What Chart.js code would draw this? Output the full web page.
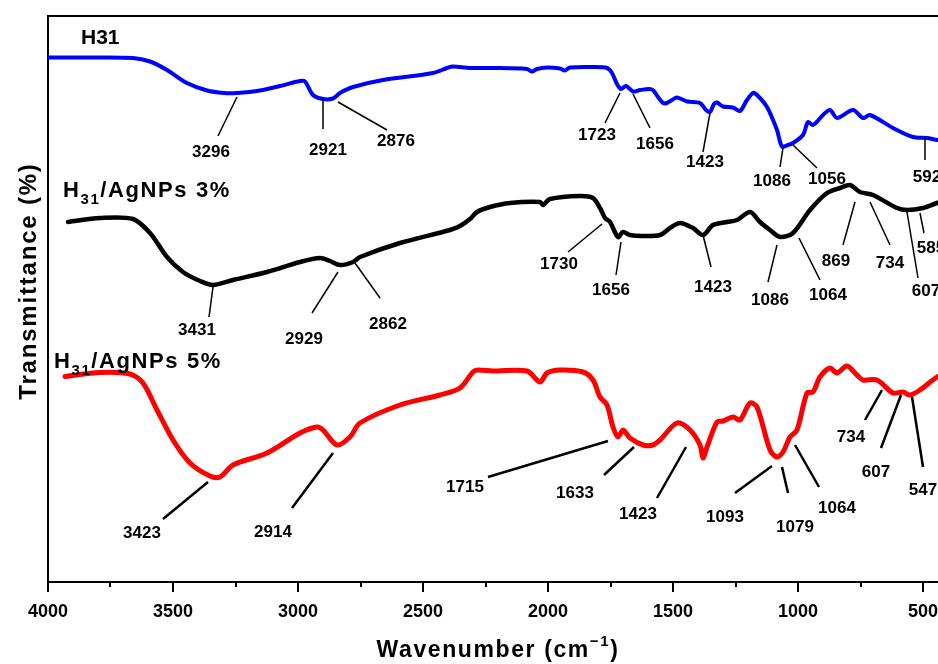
<!DOCTYPE html>
<html>
<head>
<meta charset="utf-8">
<title>FTIR H31 / AgNPs</title>
<script src="https://cdn.jsdelivr.net/npm/chart.js@4.4.1/dist/chart.umd.min.js"></script>
<style>
  html, body { margin: 0; padding: 0; background: #fff; overflow: hidden; }
  #wrap { position: absolute; left: 0; top: 0; }
</style>
</head>
<body>
<div id="wrap"><canvas id="ftirChart" width="960" height="664"></canvas></div>
<script>
// Ejes
const tickValues = [4000, 3500, 3000, 2500, 2000, 1500, 1000, 500];
const minorTickValues = [3750, 3250, 2750, 2250, 1750, 1250, 750];

// Espectro H31 (azul)
const h31Wn = [4000, 3832, 3660, 3592, 3524, 3444, 3364, 3296, 3244, 3152, 3072, 2992, 2972, 2940, 2900, 2860, 2832, 2780, 2660, 2460, 2404, 2380, 2312, 2220, 2084, 2064, 2044, 2004, 1952, 1932, 1912, 1820, 1764, 1744, 1724, 1708, 1688, 1660, 1632, 1584, 1560, 1540, 1524, 1504, 1484, 1444, 1392, 1368, 1352, 1336, 1324, 1300, 1260, 1232, 1204, 1180, 1164, 1124, 1084, 1064, 1040, 1020, 980, 960, 940, 900, 872, 844, 780, 740, 712, 620, 540, 484, 440, 400];
const h31T = [104.9, 104.9, 104.8, 104.1, 102.4, 99.8, 98.3, 97.8, 97.8, 98.3, 99.2, 100.2, 100.1, 97.4, 96.6, 96.7, 97.8, 99.0, 100.4, 101.8, 102.8, 103.1, 102.8, 102.8, 102.6, 102.1, 102.6, 102.9, 102.7, 102.3, 102.9, 103.0, 102.8, 101.8, 99.6, 98.6, 99.2, 98.1, 98.4, 98.5, 97.0, 95.8, 95.8, 96.4, 96.9, 96.1, 95.8, 94.4, 94.0, 95.6, 95.9, 95.1, 94.9, 94.2, 96.4, 97.8, 97.4, 95.0, 90.4, 87.1, 87.4, 87.8, 89.4, 92.0, 91.4, 93.4, 94.4, 92.8, 94.4, 92.8, 93.4, 90.8, 89.0, 88.8, 88.4, 88.4];

// Espectro H31/AgNPs 3% (negro)
const ag3Wn = [3920, 3792, 3660, 3592, 3524, 3460, 3392, 3340, 3260, 3124, 2992, 2912, 2872, 2832, 2780, 2752, 2592, 2392, 2352, 2312, 2284, 2232, 2152, 2032, 2020, 1992, 1872, 1820, 1792, 1772, 1752, 1720, 1700, 1672, 1612, 1552, 1512, 1472, 1420, 1380, 1340, 1284, 1244, 1192, 1152, 1112, 1072, 1020, 952, 884, 832, 792, 752, 700, 604, 564, 500, 444, 400];
const ag3T = [72.0, 72.8, 72.6, 69.8, 65.0, 62.0, 60.2, 59.4, 60.4, 62.0, 64.0, 64.8, 64.2, 63.4, 64.0, 65.0, 67.8, 70.4, 71.2, 72.6, 74.0, 75.0, 75.8, 76.0, 75.4, 76.6, 77.2, 76.8, 74.8, 72.8, 72.0, 69.0, 70.0, 69.4, 69.2, 69.4, 70.8, 71.8, 70.8, 69.4, 71.4, 72.0, 72.4, 74.0, 72.0, 70.4, 69.0, 69.8, 74.4, 77.8, 78.8, 79.4, 78.0, 77.4, 74.8, 74.4, 74.8, 75.8, 76.4];

// Espectro H31/AgNPs 5% (rojo)
const ag5Wn = [3932, 3792, 3672, 3620, 3564, 3500, 3432, 3352, 3312, 3260, 3124, 2992, 2924, 2900, 2844, 2792, 2752, 2592, 2432, 2352, 2300, 2280, 2220, 2084, 2032, 2004, 1952, 1860, 1820, 1792, 1764, 1740, 1720, 1700, 1672, 1620, 1580, 1552, 1484, 1432, 1392, 1380, 1364, 1324, 1300, 1260, 1232, 1192, 1164, 1112, 1084, 1060, 1032, 1004, 964, 940, 912, 872, 844, 804, 764, 740, 684, 620, 580, 552, 512, 444, 400];
const ag5T = [41.1, 41.9, 41.6, 39.8, 34.4, 28.4, 23.8, 21.2, 21.0, 23.4, 25.8, 29.8, 31.0, 30.4, 27.4, 29.0, 31.8, 35.4, 37.4, 38.8, 42.0, 42.4, 42.2, 42.2, 40.0, 41.8, 42.4, 42.0, 40.4, 37.0, 35.4, 31.0, 29.0, 30.4, 28.8, 27.4, 27.4, 28.4, 31.8, 30.4, 27.4, 24.8, 27.0, 32.0, 32.2, 33.0, 32.4, 35.8, 35.0, 26.4, 25.0, 26.0, 29.0, 30.4, 37.8, 38.0, 41.0, 42.8, 41.8, 43.2, 41.4, 40.4, 40.4, 37.8, 38.0, 37.4, 38.4, 41.0, 42.0];

// Etiquetas de picos: [texto, x1, y1, x2, y2, xTexto, yTexto] en unidades de los ejes
const h31Notes = [
    ['3296', 3244, 97.0, 3320, 89.2, 3348, 85.0],
    ['2921', 2900, 96.4, 2900, 90.6, 2880, 85.4],
    ['2876', 2840, 96.0, 2644, 90.4, 2608, 87.2],
    ['1723', 1712, 97.8, 1772, 91.8, 1804, 88.4],
    ['1656', 1660, 97.6, 1592, 90.8, 1572, 86.6],
    ['1423', 1352, 93.8, 1380, 86.0, 1372, 83.0],
    ['1086', 1060, 86.8, 1072, 83.0, 1104, 79.2],
    ['1056', 1020, 87.4, 924, 82.8, 884, 79.6],
    ['592', 492, 88.8, 492, 84.4, 484, 80.0]
];
const ag3Notes = [
    ['3431', 3340, 59.0, 3356, 53.0, 3404, 49.4],
    ['2929', 2840, 62.0, 2944, 53.8, 2976, 47.6],
    ['2862', 2772, 63.8, 2672, 56.8, 2640, 50.6],
    ['1730', 1784, 71.6, 1920, 66.0, 1956, 62.6],
    ['1656', 1708, 68.0, 1728, 61.4, 1748, 57.4],
    ['1423', 1380, 69.4, 1348, 63.0, 1340, 58.0],
    ['1086', 1084, 67.4, 1120, 60.0, 1112, 55.4],
    ['1064', 996, 68.8, 912, 60.4, 880, 56.4],
    ['869', 772, 76.0, 820, 67.4, 848, 63.2],
    ['734', 712, 76.0, 632, 67.4, 632, 62.8],
    ['607', 564, 74.0, 520, 60.8, 488, 57.2],
    ['585', 512, 73.8, 496, 69.8, 468, 65.8]
];
const ag5Notes = [
    ['3423', 3360, 20.0, 3540, 12.6, 3624, 8.8],
    ['2914', 2860, 25.8, 3024, 14.8, 3100, 9.0],
    ['1715', 1760, 28.2, 2240, 21.0, 2332, 18.0],
    ['1633', 1656, 27.0, 1776, 21.4, 1892, 16.8],
    ['1423', 1448, 27.0, 1564, 16.8, 1640, 12.6],
    ['1093', 1104, 23.2, 1252, 17.8, 1292, 12.0],
    ['1079', 1064, 23.0, 1040, 17.8, 1012, 10.0],
    ['1064', 1012, 27.4, 916, 19.0, 844, 13.8],
    ['734', 664, 38.4, 732, 32.4, 788, 28.0],
    ['607', 588, 37.4, 668, 26.8, 688, 21.0],
    ['547', 544, 37.0, 500, 23.0, 500, 17.4]
];

const FONT = '"Liberation Sans", Arial, Helvetica, sans-serif';

function toPoints(xs, ys) {
    return xs.map((v, i) => ({ x: v, y: ys[i] }));
}

// Texto con subíndices / superíndices
function drawParts(ctx, parts, x, y, spacing) {
    ctx.letterSpacing = spacing + 'px';
    ctx.textAlign = 'left';
    ctx.textBaseline = 'alphabetic';
    let cx = x;
    parts.forEach(p => {
        ctx.font = 'bold ' + p.size + 'px ' + FONT;
        ctx.fillText(p.t, cx, y + (p.dy || 0));
        cx += ctx.measureText(p.t).width;
    });
    ctx.letterSpacing = '0px';
    return cx - x;
}

function partsWidth(ctx, parts, spacing) {
    ctx.letterSpacing = spacing + 'px';
    let w = 0;
    parts.forEach(p => {
        ctx.font = 'bold ' + p.size + 'px ' + FONT;
        w += ctx.measureText(p.t).width;
    });
    ctx.letterSpacing = '0px';
    return w;
}

const figurePlugin = {
    id: 'figure',
    afterDraw(chart) {
        const { ctx, chartArea: a } = chart;
        const x = chart.scales.x, y = chart.scales.y;
        ctx.save();

        // marco superior y derecho
        ctx.strokeStyle = '#000';
        ctx.lineWidth = 2;
        ctx.beginPath();
        ctx.moveTo(a.left - 1, a.top);
        ctx.lineTo(a.right, a.top);
        ctx.lineTo(a.right, a.bottom);
        ctx.stroke();

        // marcas del eje x
        const tick = (v, len) => {
            const px = Math.round(x.getPixelForValue(v));
            ctx.beginPath();
            ctx.moveTo(px, a.bottom);
            ctx.lineTo(px, a.bottom + len);
            ctx.stroke();
        };
        tickValues.forEach(v => tick(v, 10));
        minorTickValues.forEach(v => tick(v, 5));

        // picos
        const drawNotes = (notes, width) => {
            ctx.lineWidth = width;
            ctx.strokeStyle = '#000';
            ctx.fillStyle = '#000';
            ctx.font = 'bold 17px ' + FONT;
            ctx.textAlign = 'center';
            ctx.textBaseline = 'alphabetic';
            notes.forEach(n => {
                ctx.beginPath();
                ctx.moveTo(x.getPixelForValue(n[1]), y.getPixelForValue(n[2]));
                ctx.lineTo(x.getPixelForValue(n[3]), y.getPixelForValue(n[4]));
                ctx.stroke();
                ctx.fillText(n[0], x.getPixelForValue(n[5]), y.getPixelForValue(n[6]));
            });
        };
        drawNotes(h31Notes, 1.5);
        drawNotes(ag3Notes, 1.5);
        drawNotes(ag5Notes, 2.5);

        // nombres de las muestras
        ctx.fillStyle = '#000';
        drawParts(ctx, [{ t: 'H31', size: 21 }], x.getPixelForValue(3868), y.getPixelForValue(107.6), 0);
        drawParts(ctx, [{ t: 'H', size: 22 }, { t: '31', size: 15, dy: 7 }, { t: '/AgNPs 3%', size: 22 }],
            x.getPixelForValue(3940), y.getPixelForValue(77.0), 1.6);
        drawParts(ctx, [{ t: 'H', size: 22 }, { t: '31', size: 15, dy: 7 }, { t: '/AgNPs 5%', size: 22 }],
            x.getPixelForValue(3976), y.getPixelForValue(42.8), 1.6);

        // título eje x
        const xt = [{ t: 'Wavenumber (cm', size: 23 }, { t: '\u22121', size: 15, dy: -11 }, { t: ')', size: 23 }];
        const xw = partsWidth(ctx, xt, 1.6);
        drawParts(ctx, xt, (a.left + a.right) / 2 - xw / 2, 657, 1.6);

        // título eje y
        ctx.translate(36, 281);
        ctx.rotate(-Math.PI / 2);
        ctx.font = 'bold 24px ' + FONT;
        ctx.letterSpacing = '1.8px';
        ctx.textAlign = 'center';
        ctx.fillText('Transmittance (%)', 0, 0);
        ctx.letterSpacing = '0px';

        ctx.restore();
    }
};

function createFtirChart() {
    const ctx = document.getElementById('ftirChart');
    if (!ctx) return;

    try {
        new Chart(ctx, {
            type: 'scatter',
            data: {
                datasets: [{
                    label: 'H31',
                    data: toPoints(h31Wn, h31T),
                    borderColor: '#0000ff',
                    borderWidth: 4
                }, {
                    label: 'H31/AgNPs 3%',
                    data: toPoints(ag3Wn, ag3T),
                    borderColor: '#000000',
                    borderWidth: 4.5
                }, {
                    label: 'H31/AgNPs 5%',
                    data: toPoints(ag5Wn, ag5T),
                    borderColor: '#ff0000',
                    borderWidth: 5
                }]
            },
            options: {
                responsive: false,
                animation: false,
                showLine: true,
                elements: {
                    point: { radius: 0, hoverRadius: 0 },
                    line: { tension: 0.3, borderCapStyle: 'round', borderJoinStyle: 'round' }
                },
                layout: { padding: { top: 16, right: 12, left: 0, bottom: 0 } },
                plugins: {
                    legend: { display: false },
                    tooltip: { enabled: false }
                },
                scales: {
                    x: {
                        type: 'linear',
                        reverse: true,
                        min: 400,
                        max: 4000,
                        afterBuildTicks: s => { s.ticks = tickValues.map(v => ({ value: v })); },
                        afterFit: s => { s.height = 82; },
                        grid: { display: false, drawTicks: false },
                        border: { display: true, color: '#000', width: 2 },
                        ticks: {
                            color: '#000',
                            padding: 19,
                            maxRotation: 0,
                            font: { family: FONT, size: 18, weight: 'bold' },
                            callback: v => String(v)
                        }
                    },
                    y: {
                        min: 0,
                        max: 113.2,
                        afterFit: s => { s.width = 48; },
                        grid: { display: false, drawTicks: false },
                        border: { display: true, color: '#000', width: 2 },
                        ticks: { display: false }
                    }
                }
            },
            plugins: [figurePlugin]
        });
    } catch (error) {
        console.error('Error creando el gráfico FTIR:', error);
    }
}

createFtirChart();
</script>
</body>
</html>
